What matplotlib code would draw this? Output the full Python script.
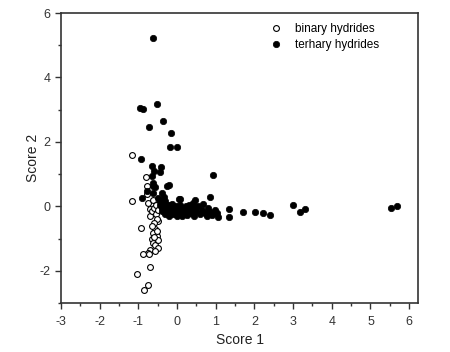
import numpy as np
import matplotlib
matplotlib.use("Agg")
from matplotlib import pyplot as plt
from matplotlib.ticker import MultipleLocator

plt.rcParams['font.family'] = ['Liberation Sans', 'DejaVu Sans']
plt.rcParams['axes.unicode_minus'] = False

# binary hydrides (open circles)
binary_x = [-1.16, -0.80, -1.17, -0.78, -0.77, -0.74, -0.70, -0.70, -0.65, -0.60,
            -0.55, -0.48, -0.53, -0.60, -0.93, -0.57, -0.61, -0.53, -0.65, -0.61,
            -0.57, -0.48, -0.70, -0.57, -0.74, -0.87, -0.72, -0.70, -1.04, -0.76,
            -0.85, -0.62, -0.55, -0.50, -0.66, -0.52, -0.50, -0.60]
binary_y = [1.59, 0.92, 0.16, 0.63, 0.37, 0.11, -0.09, -0.30, -0.15, -0.05,
            -0.25, -0.45, -0.40, -0.50, -0.66, -0.71, -0.82, -0.92, -1.02, -1.13,
            -1.21, -1.28, -1.34, -1.39, -1.44, -1.49, -1.49, -1.88, -2.09, -2.44,
            -2.58, 0.20, 0.05, -0.10, -0.60, -0.75, -1.05, -0.95]

# ternary hydrides (filled circles)
ternary_x = [-0.63, -0.96, -0.87, -0.53, -0.37, -0.72, -0.15, -0.18, 0.00, -0.94,
             -0.66, -0.41, -0.44, -0.65, -0.59, 0.92, -0.61, -0.61, -0.22, -0.25,
             -0.77, -0.61, -0.40, -0.57, -0.91, 0.08, 0.85, 0.42, 0.47, 0.06,
             -0.44, -0.48, -0.35, -0.30,
             -0.45, -0.40, -0.38, -0.35, -0.32, -0.30, -0.28, -0.25, -0.22, -0.20,
             -0.18, -0.15, -0.12, -0.10, -0.08, -0.05, -0.02, 0.00, 0.02, 0.05,
             0.08, 0.10, 0.12, 0.15, 0.18, 0.22, 0.25, 0.28, 0.32, 0.35,
             0.40, 0.45, 0.50, 0.55, 0.60, 0.65, 0.68, 0.72, 0.78, 0.80,
             0.85, 0.90, 0.93, 0.97, 1.03, 1.05, 1.33, 1.33, 1.71, 2.02,
             2.23, 2.40, 2.99, 3.18, 3.31, 5.53, 5.68]
ternary_y = [5.21, 3.04, 3.01, 3.18, 2.66, 2.45, 2.29, 1.85, 1.85, 1.46,
             1.25, 1.22, 1.07, 0.94, 1.10, 0.96, 0.74, 0.63, 0.65, 0.63,
             0.48, 0.43, 0.43, 0.61, 0.27, 0.22, 0.30, 0.11, 0.20, 0.22,
             0.16, 0.25, 0.30, 0.18,
             0.05, -0.05, -0.15, 0.10, -0.25, 0.00, -0.10, -0.20, 0.05, -0.30,
             -0.05, -0.15, 0.08, -0.25, -0.05, -0.18, 0.02, -0.30, -0.10, -0.22,
             0.05, -0.15, -0.30, -0.05, -0.20, 0.00, -0.28, -0.10, 0.05, -0.20,
             -0.05, -0.30, -0.15, 0.00, -0.25, -0.10, 0.08, -0.20, -0.30, -0.05,
             -0.18, -0.28, -0.19, -0.10, -0.20, -0.32, -0.09, -0.32, -0.18, -0.18,
             -0.20, -0.28, 0.03, -0.18, -0.09, -0.04, 0.01]

fig = plt.figure(figsize=(4.5, 3.52), dpi=100)
ax = fig.add_axes([0.1356, 0.139, 0.7934, 0.824])

ax.plot(binary_x, binary_y, 'o', ms=4.2, mfc='white', mec='black', mew=0.8,
        ls='none', label='binary hydrides')
ax.plot(ternary_x, ternary_y, 'o', ms=4.6, mfc='black', mec='black', mew=0.5,
        ls='none', label='terhary hydrides')

ax.set_xlim(-3, 6.23)
ax.set_ylim(-3, 6)
ax.xaxis.set_major_locator(MultipleLocator(1))
ax.xaxis.set_minor_locator(MultipleLocator(0.5))
ax.yaxis.set_major_locator(MultipleLocator(2))
ax.yaxis.set_minor_locator(MultipleLocator(1))
ax.tick_params(which='major', direction='out', length=4, width=1, labelsize=9,
               top=False, right=False, color='#333333', labelcolor='#333333')
ax.tick_params(axis='x', which='major', pad=5)
ax.tick_params(which='minor', direction='out', length=2, width=1,
               top=False, right=False, color='#333333')
for s in ax.spines.values():
    s.set_linewidth(1.2)
    s.set_color('#333333')

ax.set_xlabel('Score 1', fontsize=10, color='#222222', labelpad=4)
ax.set_ylabel('Score 2', fontsize=10, color='#222222', labelpad=0)

ax.legend(loc='upper right', frameon=False, fontsize=8.5, handletextpad=0.6,
          labelspacing=0.3, borderaxespad=0.47, bbox_to_anchor=(0.92, 1.0))

fig.savefig('out.png', dpi=100)
